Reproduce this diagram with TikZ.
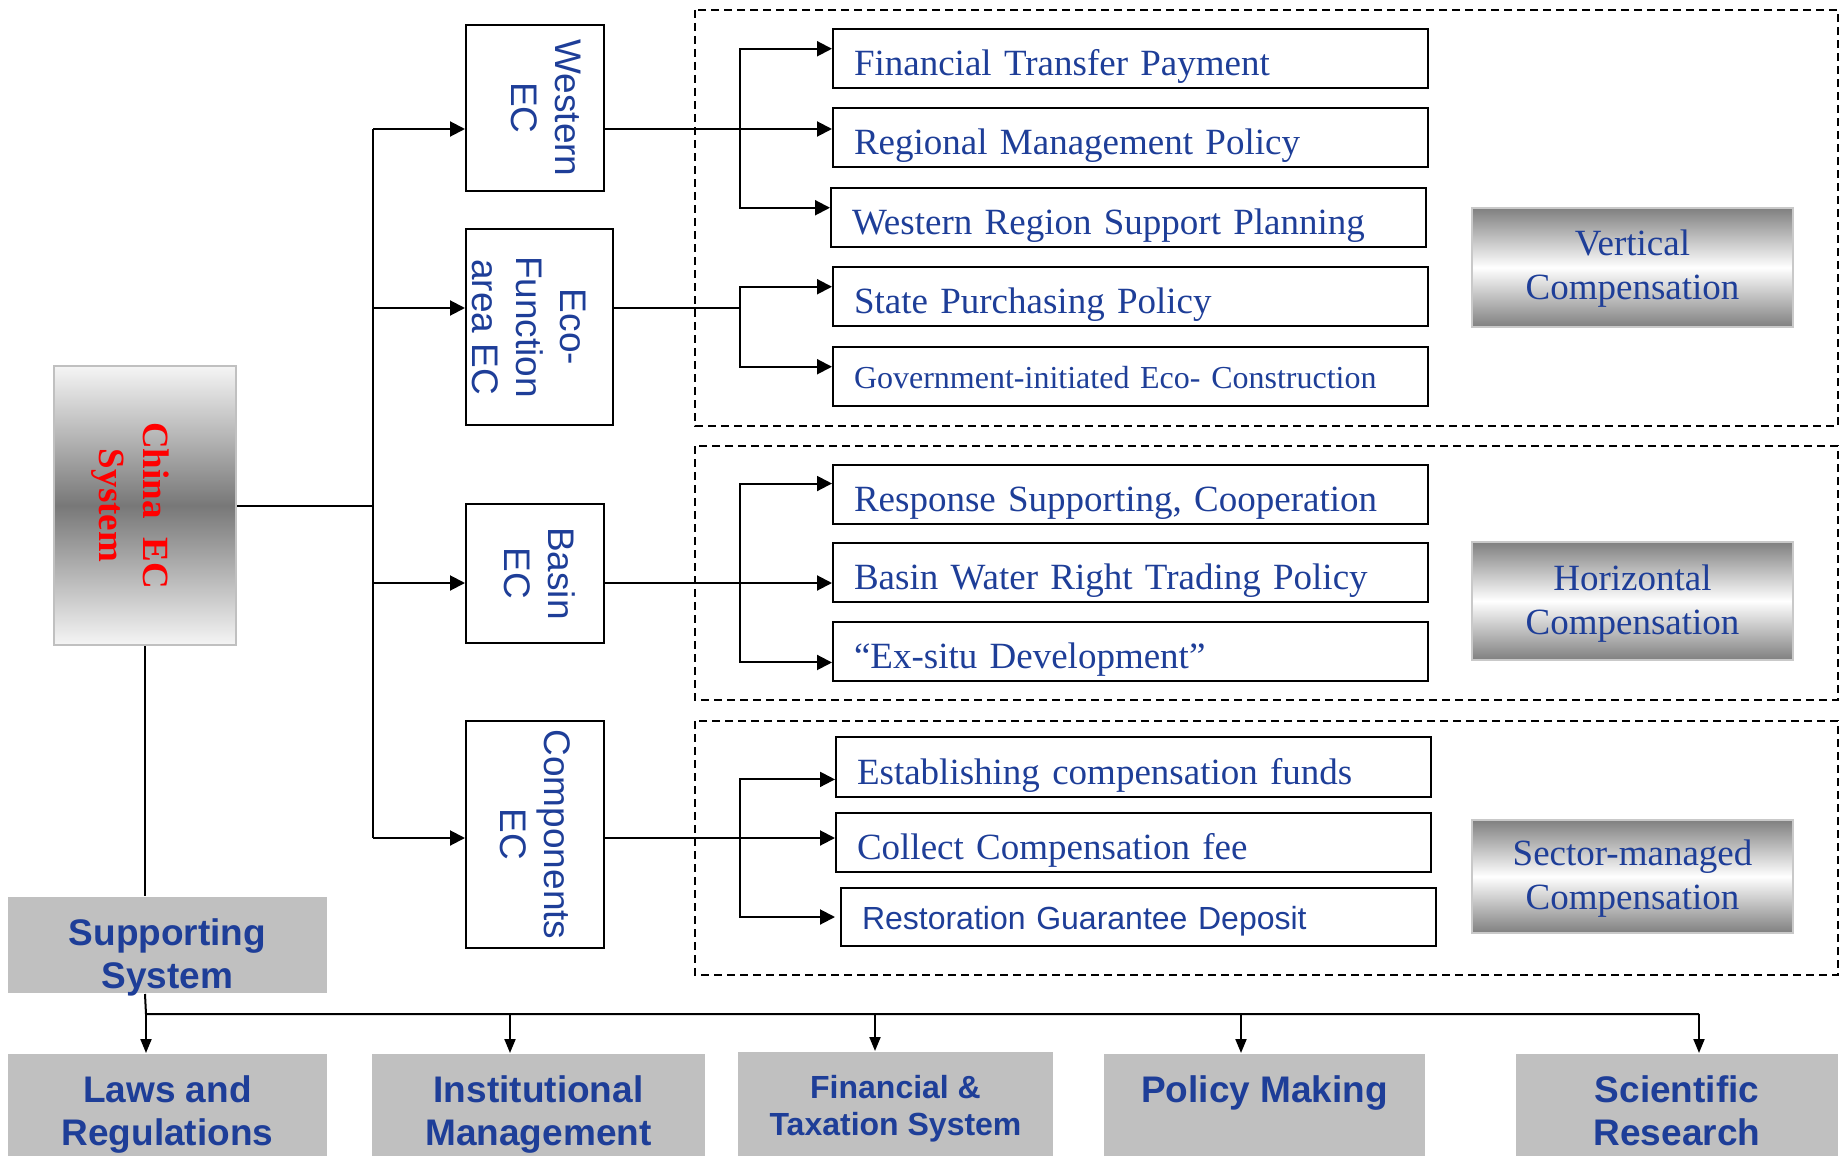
\documentclass[tikz,border=0pt]{standalone}
\usepackage{fontspec}
\setmainfont{Liberation Serif}
\setsansfont{Liberation Sans}
\usepackage{graphicx}
\usetikzlibrary{arrows.meta, positioning, calc}
\definecolor{ecBlue}{RGB}{30,62,152}
\definecolor{ecRed}{RGB}{255,0,0}
\definecolor{ecGray}{RGB}{192,192,192}
\newcommand{\vtext}[2][0pt]{\hspace*{#1}\rotatebox{-90}{\begin{tabular}{@{}c@{}}#2\end{tabular}}}
\tikzset{
  ecbox/.style={draw, line width=2pt, inner sep=0pt, text=ecBlue, font=\sffamily\fontsize{37}{44}\selectfont},
  itembox/.style={draw, line width=2pt, anchor=west, minimum height=59pt, text width=553pt, inner xsep=21pt, inner ysep=2pt, text height=38pt, text depth=4pt, align=left, text=ecBlue, font=\fontsize{37}{44}\selectfont},
  compbox/.style={draw=ecGray!85, line width=2pt, top color=black!50, bottom color=black!50, middle color=white, minimum width=321pt, inner ysep=0pt, text height=74pt, text depth=8pt, align=center, text=ecBlue, font=\fontsize{37}{44}\selectfont},
  supbox/.style={fill=ecGray, inner sep=0pt, align=center, text height=84pt, text depth=4pt, text=ecBlue, font=\sffamily\bfseries\fontsize{37}{43}\selectfont},
  groupframe/.style={line width=2pt, dash pattern=on 8pt off 5pt},
  arr/.style={-{Triangle[length=15pt,width=15pt]}},
  downarr/.style={-{Triangle[length=14pt,width=11pt]}}
}

\begin{document}
\begin{tikzpicture}[x=1pt, y=-1pt, line width=2pt]
\useasboundingbox (0,0) rectangle (1845,1156);

\node[draw=ecGray, line width=2pt, top color=white!96!black, bottom color=white!96!black, middle color=black!53, minimum width=182pt, minimum height=279pt, inner sep=0pt, text=ecRed, font=\bfseries\fontsize{37}{44}\selectfont] (china) at (145,505.5) {\vtext[-30pt]{China\ \ EC\\System}};

\node[ecbox, minimum width=138pt, minimum height=166pt] (wec) at (535,108) {\vtext[14pt]{Western\\EC}};
\node[ecbox, minimum width=147pt, minimum height=196pt] (eco) at (539.5,327) {\vtext[-28pt]{Eco-\\Function\\area EC}};
\node[ecbox, minimum width=138pt, minimum height=139pt] (basin) at (535,573.5) {\vtext{Basin\\EC}};
\node[ecbox, minimum width=138pt, minimum height=227pt] (comp) at (535,834.5) {\vtext[-8pt]{Components\\EC}};

\draw[groupframe] (695,10) rectangle (1838,426);
\draw[groupframe] (695,446) rectangle (1838,700);
\draw[groupframe] (695,721) rectangle (1838,975);

\node[itembox] (ftp) at (832,58.5) {Financial Transfer Payment};
\node[itembox] (rmp) at (832,137.5) {Regional Management Policy};
\node[itembox] (wrsp) at (830,217.5) {Western Region Support Planning};
\node[itembox] (spp) at (832,296.5) {State Purchasing Policy};
\node[itembox, text height=30pt, text depth=7pt, font=\fontsize{32}{38}\selectfont] (giec) at (832,376.5) {Government-initiated Eco- Construction};
\node[itembox] (rsc) at (832,494.5) {Response Supporting, Cooperation};
\node[itembox] (bwr) at (832,572.5) {Basin Water Right Trading Policy};
\node[itembox] (exs) at (832,651.5) {“Ex-situ Development”};
\node[itembox, minimum height=60pt] (ecf) at (835,767) {Establishing compensation funds};
\node[itembox] (ccf) at (835,842.5) {Collect Compensation fee};
\node[itembox, minimum height=58pt, text height=30pt, text depth=5pt, font=\sffamily\fontsize{32}{38}\selectfont] (rgd) at (840,917) {Restoration Guarantee Deposit};

\node[compbox, minimum height=119pt, text height=71pt] (vert) at (1632.5,267.5) {Vertical\\Compensation};
\node[compbox, minimum height=118pt] (horiz) at (1632.5,601) {Horizontal\\Compensation};
\node[compbox, minimum height=113pt] (sector) at (1632.5,876.5) {Sector-managed\\Compensation};

\node[supbox, minimum width=319pt, minimum height=96pt, text height=90pt] (support) at (167.5,945) {Supporting\\System};
\node[supbox, minimum width=319pt, minimum height=102pt] (laws) at (167.5,1105) {Laws and\\Regulations};
\node[supbox, minimum width=333pt, minimum height=102pt] (inst) at (538.5,1105) {Institutional\\Management};
\node[supbox, minimum width=315pt, minimum height=104pt, text height=66pt, font=\sffamily\bfseries\fontsize{32}{37}\selectfont] (fin) at (895.5,1104) {Financial \&\\Taxation System};
\node[supbox, minimum width=321pt, minimum height=102pt] (policy) at (1264.5,1105) {Policy Making\\\mbox{}};
\node[supbox, minimum width=322pt, minimum height=102pt] (sci) at (1677,1105) {Scientific\\Research};

\coordinate (jW) at (373,129);
\coordinate (jE) at (373,308);
\coordinate (jB) at (373,583);
\coordinate (jC) at (373,838);
\coordinate (fx) at (740,0);

\draw (china.east) -- (china.east -| jW);
\draw (jW) -- (jC);
\foreach \j/\b in {jW/wec, jE/eco, jB/basin, jC/comp}
  \draw[arr] (\j) -- (\j -| \b.west);

\draw[arr] (jW -| wec.east) -- (jW -| rmp.west);
\draw[arr] (jW -| fx) |- ($(ftp.north west)!.34!(ftp.south west)$);
\draw[arr] (jW -| fx) |- ($(wrsp.north west)!.34!(wrsp.south west)$);

\draw (jE -| eco.east) -- (jE -| fx);
\draw[arr] (jE -| fx) |- ($(spp.north west)!.34!(spp.south west)$);
\draw[arr] (jE -| fx) |- ($(giec.north west)!.34!(giec.south west)$);

\draw[arr] (jB -| basin.east) -- (jB -| bwr.west);
\draw[arr] (jB -| fx) |- ($(rsc.north west)!.32!(rsc.south west)$);
\draw[arr] (jB -| fx) |- ($(exs.north west)!.68!(exs.south west)$);

\draw[arr] (jC -| comp.east) -- (jC -| ccf.west);
\draw[arr] (jC -| fx) |- ($(ecf.north west)!.7!(ecf.south west)$);
\draw[arr] (jC -| fx) |- (rgd.west -| ccf.west);

\coordinate (b1) at (146,1014);
\coordinate (b2) at (510,1014);
\coordinate (b3) at (875,1014);
\coordinate (b4) at (1241,1014);
\coordinate (b5) at (1699,1014);
\draw (china.south) -- (china.south |- support.north);
\draw (china.south |- support.south) -- (b1) -- (b5);
\foreach \b/\n in {b1/laws, b2/inst, b3/fin, b4/policy, b5/sci}
  \draw[downarr] (\b) -- (\b |- \n.north);
\end{tikzpicture}
\end{document}
